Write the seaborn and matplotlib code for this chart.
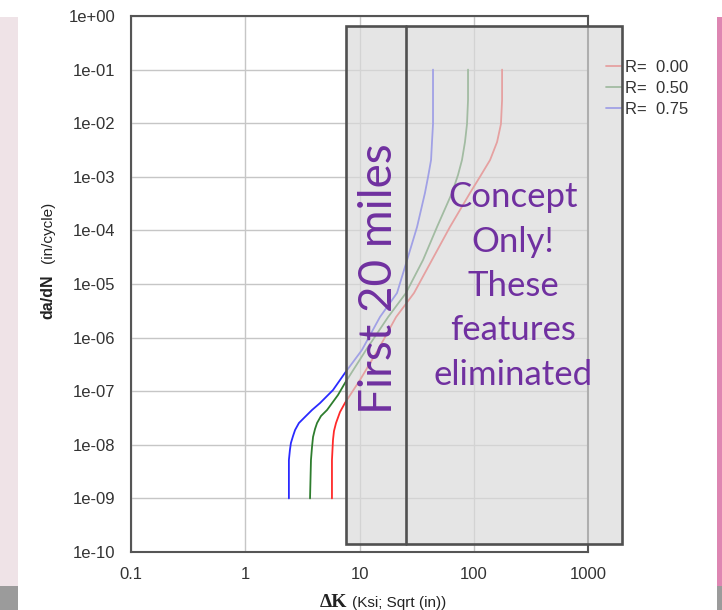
import matplotlib
matplotlib.use("Agg")
import matplotlib.pyplot as plt
import pandas as pd
import seaborn as sns
from matplotlib.patches import Rectangle
from matplotlib.lines import Line2D

# ---------------- data ----------------
series_labels = ["R=  0.00", "R=  0.50", "R=  0.75"]
series_colors = ["#ff2a2a", "#2e7d2e", "#2a2aff"]

dk_r000 = [5.74, 5.74, 5.86, 5.98, 6.23, 6.75, 7.46, 10.1, 14.5, 20.9, 30.0, 43.1, 61.9, 92.7,
           113, 139, 160, 173, 177, 177]
dadn_r000 = [1e-9, 5.2e-9, 1.23e-8, 1.81e-8, 2.55e-8, 4.09e-8, 6.03e-8, 1.62e-7, 5.87e-7, 2.42e-6,
             6.79e-6, 2.81e-5, 1.16e-4, 4.99e-4, 9.9e-4, 2.06e-3, 4.46e-3, 9.66e-3, 2.71e-2, 1e-1]

dk_r050 = [3.69, 3.76, 3.84, 3.92, 4.08, 4.25, 4.60, 5.20, 6.48, 7.46, 11.4, 17.8, 25.5, 36.0,
           47.7, 64.5, 72.8, 78.9, 83.8, 87.3, 89.1, 89.1]
dadn_r050 = [1e-9, 5.2e-9, 9.1e-9, 1.40e-8, 1.97e-8, 2.55e-8, 3.44e-8, 4.46e-8, 8.49e-8, 1.42e-7,
             5.87e-7, 2.42e-6, 6.79e-6, 2.81e-5, 1.16e-4, 4.99e-4, 1.08e-3, 2.06e-3, 4.46e-3,
             9.66e-3, 2.71e-2, 1e-1]

dk_r075 = [2.41, 2.41, 2.46, 2.51, 2.62, 2.73, 2.95, 3.33, 3.84, 4.51, 5.86, 7.46, 10.5, 15.1,
           21.3, 26.1, 31.9, 37.4, 39.8, 42.3, 43.1, 44.0, 44.0]
dadn_r075 = [1e-9, 5.2e-9, 8.0e-9, 1.08e-8, 1.46e-8, 1.89e-8, 2.55e-8, 3.30e-8, 4.46e-8, 6.0e-8,
             1.05e-7, 2.19e-7, 5.87e-7, 2.42e-6, 6.79e-6, 2.81e-5, 1.16e-4, 4.99e-4, 9.9e-4,
             2.06e-3, 4.46e-3, 9.66e-3, 1e-1]

x_ticks = [0.1, 1, 10, 100, 1000]
x_tick_labels = ["0.1", "1", "10", "100", "1000"]
y_ticks = [1e0, 1e-1, 1e-2, 1e-3, 1e-4, 1e-5, 1e-6, 1e-7, 1e-8, 1e-9, 1e-10]
y_tick_labels = ["1e+00", "1e-01", "1e-02", "1e-03", "1e-04", "1e-05",
                 "1e-06", "1e-07", "1e-08", "1e-09", "1e-10"]

note_vertical = "First 20 miles"
note_lines = ["Concept", "Only!", "These", "features", "eliminated"]

# ---------------- figure ----------------
sns.set_theme(style="white")
plt.rcParams["font.family"] = ["Liberation Sans", "DejaVu Sans"]

W, H = 722, 610
fig = plt.figure(figsize=(W / 100, H / 100), dpi=100)
fig.patch.set_facecolor("white")


def fx(px):
    return px / W


def fy(py):
    return (H - py) / H


ax = fig.add_axes([fx(131), fy(552), fx(588) - fx(131), fy(16) - fy(552)])

frames = []
for lab, xs, ys in zip(series_labels,
                       [dk_r000, dk_r050, dk_r075],
                       [dadn_r000, dadn_r050, dadn_r075]):
    frames.append(pd.DataFrame({"dK": xs, "dadN": ys, "series": lab}))
df = pd.concat(frames, ignore_index=True)

sns.lineplot(data=df, x="dK", y="dadN", hue="series", hue_order=series_labels,
             palette=dict(zip(series_labels, series_colors)), sort=False,
             estimator=None, linewidth=1.3, legend=False, ax=ax)

ax.set_xscale("log")
ax.set_yscale("log")
ax.set_xlim(0.1, 1000)
ax.set_ylim(1e-10, 1)
ax.set_xticks(x_ticks)
ax.set_xticklabels(x_tick_labels)
ax.set_yticks(y_ticks)
ax.set_yticklabels(y_tick_labels)
ax.minorticks_off()
ax.tick_params(axis="both", length=0, labelsize=12, labelcolor="#333333")
ax.tick_params(axis="x", pad=11)
ax.tick_params(axis="y", pad=11)
ax.grid(True, which="major", color="#c6c6c6", linewidth=1.0)
ax.set_xlabel("")
ax.set_ylabel("")
for s in ax.spines.values():
    s.set_color("#555555")
    s.set_linewidth(1.5)
    s.set_visible(True)

# axis titles
fig.text(fx(48), fy(297), "da/dN", rotation=90, ha="center", va="center",
         fontsize=11.5, fontweight="bold", color="#222222")
fig.text(fx(48), fy(232), "(in/cycle)", rotation=90, ha="center", va="center",
         fontsize=11, color="#222222",
         family=["Liberation Sans Narrow", "Liberation Sans", "DejaVu Sans"])
fig.text(fx(320), fy(607), "\u0394K", ha="left", va="baseline", fontsize=14,
         fontweight="bold", color="#222222",
         family=["Liberation Serif", "DejaVu Serif"])
fig.text(fx(352), fy(607), "(Ksi; Sqrt (in))", ha="left", va="baseline", fontsize=11,
         color="#222222",
         family=["Liberation Sans Narrow", "Liberation Sans", "DejaVu Sans"])

# legend
handles = [Line2D([], [], color=c, lw=1.3) for c in series_colors]
leg = fig.legend(handles, series_labels, loc="upper left",
                 bbox_to_anchor=(fx(606), fy(60)), frameon=False, fontsize=12,
                 handlelength=0.95, handletextpad=0.2, labelspacing=0.36,
                 borderpad=0, borderaxespad=0)
for t in leg.get_texts():
    t.set_color("#333333")
leg.set_zorder(5)

# semi-transparent overlay box
box = Rectangle((fx(346), fy(544)), fx(622) - fx(346), fy(26) - fy(544),
                transform=fig.transFigure, facecolor=(0.855, 0.855, 0.855, 0.68),
                edgecolor="#505050", linewidth=1.9, zorder=6)
fig.patches.append(box)
fig.lines.append(Line2D([fx(406), fx(406)], [fy(544), fy(26)], transform=fig.transFigure,
                        color="#505050", linewidth=1.9, zorder=6.5))

purple = "#7030A0"
fig.text(fx(392), fy(279), note_vertical, rotation=90, rotation_mode="anchor",
         ha="center", va="baseline", fontsize=33, color=purple,
         family=["Lato", "DejaVu Sans"], zorder=7)
for i, line in enumerate(note_lines):
    fig.text(fx(513), fy(207 + i * 44.5), line, ha="center", va="baseline",
             fontsize=25, color=purple, family=["Lato", "DejaVu Sans"], zorder=7)

# slide background remnants at the edges
fig.patches.append(Rectangle((0, fy(586)), fx(18), fy(17) - fy(586), transform=fig.transFigure,
                             facecolor="#efe3e7", edgecolor="none", zorder=0.5))
fig.patches.append(Rectangle((0, 0), fx(18), fy(586), transform=fig.transFigure,
                             facecolor="#9b9b9b", edgecolor="none", zorder=0.5))
fig.patches.append(Rectangle((fx(717), fy(586)), 1 - fx(717), fy(17) - fy(586),
                             transform=fig.transFigure,
                             facecolor="#de86b2", edgecolor="none", zorder=0.5))
fig.patches.append(Rectangle((fx(717), 0), 1 - fx(717), fy(586), transform=fig.transFigure,
                             facecolor="#9b9b9b", edgecolor="none", zorder=0.5))

fig.savefig("out.png", dpi=100)
